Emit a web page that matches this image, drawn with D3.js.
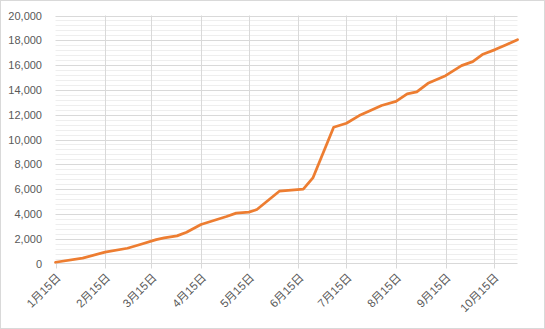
<!DOCTYPE html>
<html>
<head>
<meta charset="utf-8">
<script src="https://cdn.jsdelivr.net/npm/d3@7"></script>
<style>
  body { margin: 0; background: #fff; }
  text { font-family: "Liberation Sans", "Noto Sans CJK JP", sans-serif; fill: #595959; }
</style>
</head>
<body>
<svg id="chart" width="545" height="329"></svg>
<script>
// data (2020)
var dates = ["2020-01-15","2020-02-01","2020-02-15","2020-02-29","2020-03-08","2020-03-18",
  "2020-03-23","2020-03-31","2020-04-06","2020-04-15","2020-05-01","2020-05-07","2020-05-15",
  "2020-05-20","2020-06-03","2020-06-18","2020-06-24","2020-07-07","2020-07-15","2020-07-23",
  "2020-07-29","2020-08-06","2020-08-15","2020-08-22","2020-08-28","2020-09-04","2020-09-15",
  "2020-09-25","2020-10-02","2020-10-08","2020-10-16","2020-10-23","2020-10-30"];
var values = [100, 430, 920, 1230, 1530, 1930,
  2070, 2230, 2520, 3150, 3790, 4060, 4140,
  4350, 5830, 6000, 6900, 10990, 11310, 11930,
  12280, 12740, 13070, 13680, 13840, 14530, 15150,
  15960, 16280, 16850, 17250, 17650, 18050];
var yTicks = [0, 2000, 4000, 6000, 8000, 10000, 12000, 14000, 16000, 18000, 20000];
var xTicks = ["2020-01-15","2020-02-15","2020-03-15","2020-04-15","2020-05-15",
  "2020-06-15","2020-07-15","2020-08-15","2020-09-15","2020-10-15"];

var svg = d3.select("#chart"),
    width = +svg.attr("width"),
    height = +svg.attr("height");

var pLeft = 55.5, pRight = 517.5, pTop = 15.5, pBottom = 263.5;
var parse = d3.utcParse("%Y-%m-%d");

var x = d3.scaleUtc()
  .domain([parse("2020-01-15"), parse("2020-10-30")])
  .range([pLeft, pRight]);
var y = d3.scaleLinear()
  .domain([0, 20000])
  .range([pBottom, pTop]);

// chart border
svg.append("rect")
  .attr("x", 0.5).attr("y", 0.5)
  .attr("width", width - 1).attr("height", height - 1)
  .attr("fill", "#fff").attr("stroke", "#d9d9d9");

// minor gridlines
svg.append("g")
  .selectAll("line")
  .data(d3.range(400, 20000, 400).filter(function(d) { return d % 2000 != 0; }))
  .enter().append("line")
  .attr("x1", pLeft).attr("x2", pRight)
  .attr("y1", function(d) { return Math.round(y(d)) + 0.5; })
  .attr("y2", function(d) { return Math.round(y(d)) + 0.5; })
  .attr("stroke", "#eeeeee");

// major gridlines
svg.append("g")
  .selectAll("line")
  .data(yTicks.slice(1))
  .enter().append("line")
  .attr("x1", pLeft).attr("x2", pRight)
  .attr("y1", function(d) { return Math.round(y(d)) + 0.5; })
  .attr("y2", function(d) { return Math.round(y(d)) + 0.5; })
  .attr("stroke", "#d9d9d9");

// vertical gridlines
svg.append("g")
  .selectAll("line")
  .data(xTicks.slice(1))
  .enter().append("line")
  .attr("x1", function(d) { return Math.round(x(parse(d))) + 0.5; })
  .attr("x2", function(d) { return Math.round(x(parse(d))) + 0.5; })
  .attr("y1", pTop).attr("y2", pBottom)
  .attr("stroke", "#d9d9d9");

// y labels
svg.append("g")
  .selectAll("text")
  .data(yTicks)
  .enter().append("text")
  .attr("x", 42)
  .attr("y", function(d) { return y(d) + 4; })
  .attr("text-anchor", "end")
  .style("font-size", "11px")
  .text(function(d) { return d3.format(",")(d); });

// x axis line + ticks
svg.append("line")
  .attr("x1", pLeft).attr("x2", pRight)
  .attr("y1", pBottom).attr("y2", pBottom)
  .attr("stroke", "#d9d9d9");
svg.append("g")
  .selectAll("line")
  .data(xTicks)
  .enter().append("line")
  .attr("x1", function(d) { return Math.round(x(parse(d))) + 0.5; })
  .attr("x2", function(d) { return Math.round(x(parse(d))) + 0.5; })
  .attr("y1", pBottom).attr("y2", pBottom + 5)
  .attr("stroke", "#d9d9d9");

// x labels
svg.append("g")
  .selectAll("text")
  .data(xTicks)
  .enter().append("text")
  .attr("transform", function(d) { return "translate(" + (x(parse(d)) + 3) + "," + (pBottom + 12) + ") rotate(-45)"; })
  .attr("text-anchor", "end")
  .attr("dy", "0.35em")
  .style("font-size", "11.5px")
  .text(function(d) { var t = parse(d); return (t.getUTCMonth() + 1) + "月15日"; });

// the line
var line = d3.line()
  .x(function(d, i) { return x(parse(dates[i])); })
  .y(function(d) { return y(d); });

svg.append("path")
  .datum(values)
  .attr("d", line)
  .attr("fill", "none")
  .attr("stroke", "#ed7d31")
  .attr("stroke-width", 2.75)
  .attr("stroke-linejoin", "round")
  .attr("stroke-linecap", "round");
</script>
</body>
</html>
